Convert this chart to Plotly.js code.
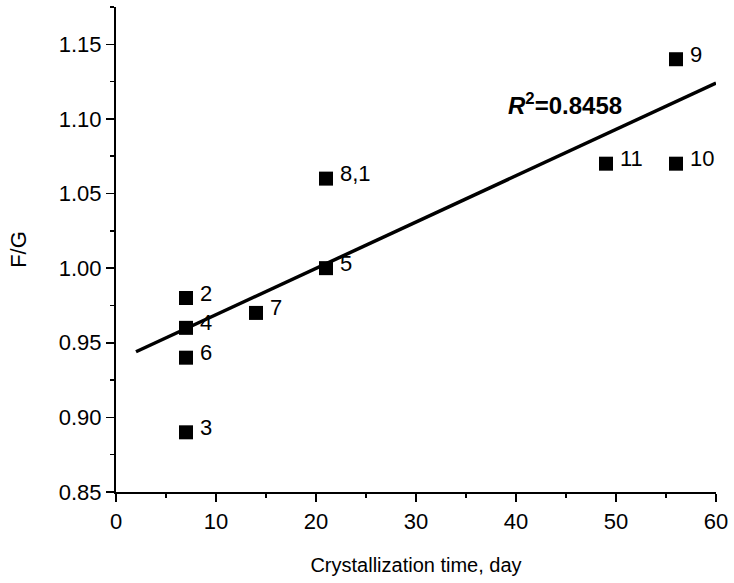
<!DOCTYPE html>
<html>
<head>
<meta charset="utf-8">
<script src="https://cdn.plot.ly/plotly-3.0.1.min.js"></script>
<style>html,body{margin:0;padding:0;background:#fff;}#chart{width:734px;height:583px;}</style>
</head>
<body>
<div id="chart"></div>
<script>
// Sample data: crystallization time (days) vs F/G ratio
const sampleLabels = ["2", "4", "6", "3", "7", "5", "8,1", "11", "9", "10"];
const crystallizationDays = [7, 7, 7, 7, 14, 21, 21, 49, 56, 56];
const fgRatio = [0.98, 0.96, 0.94, 0.89, 0.97, 1.00, 1.06, 1.07, 1.14, 1.07];

// Linear fit line endpoints
const fitX = [2, 60];
const fitY = [0.944, 1.124];
const r2Text = "<b><i>R</i><sup>2</sup>=0.8458</b>";
const r2Pos = [39.0, 1.11];

const FONT = "Arial, 'Liberation Sans', sans-serif";

const traces = [
  {
    x: fitX, y: fitY, type: "scatter", mode: "lines",
    line: {color: "#000", width: 3.5}, hoverinfo: "skip"
  },
  {
    x: crystallizationDays, y: fgRatio, type: "scatter", mode: "markers",
    marker: {symbol: "square", size: 14, color: "#000"}
  }
];

const annotations = sampleLabels.map((t, i) => ({
  x: crystallizationDays[i], y: fgRatio[i], xref: "x", yref: "y",
  text: t, showarrow: false, xanchor: "left", yanchor: "middle",
  xshift: 12, yshift: 5,
  font: {family: FONT, size: 22, color: "#000"}
}));
annotations.push({
  x: r2Pos[0], y: r2Pos[1], xref: "x", yref: "y", text: r2Text,
  showarrow: false, xanchor: "left", yanchor: "middle",
  font: {family: FONT, size: 24, color: "#000"}
});

const axisCommon = {
  showgrid: false, zeroline: false, showline: true, linecolor: "#000", linewidth: 2,
  ticks: "outside", ticklen: 8, tickwidth: 1.5, tickcolor: "#000",
  tickfont: {family: FONT, size: 22, color: "#000"},
  mirror: false
};

const layout = {
  width: 734, height: 583,
  margin: {l: 116, r: 18, t: 7, b: 91},
  paper_bgcolor: "#fff", plot_bgcolor: "#fff",
  showlegend: false,
  font: {family: FONT, color: "#000"},
  xaxis: Object.assign({}, axisCommon, {
    range: [0, 60], tick0: 0, dtick: 10, ticklabelstandoff: 1,
    minor: {dtick: 5, tick0: 0, ticks: "outside", ticklen: 4, tickwidth: 1.5, tickcolor: "#000"},
    title: {text: "Crystallization time, day", font: {family: FONT, size: 20, color: "#000"}, standoff: 25}
  }),
  yaxis: Object.assign({}, axisCommon, {
    range: [0.85, 1.175], tick0: 0.85, dtick: 0.05, tickformat: ".2f",
    minor: {dtick: 0.025, tick0: 0.85, ticks: "outside", ticklen: 4, tickwidth: 1.5, tickcolor: "#000"},
    title: {text: "F/G", font: {family: FONT, size: 22, color: "#000"}, standoff: 26}
  }),
  annotations: annotations
};

Plotly.newPlot("chart", traces, layout, {displayModeBar: false, staticPlot: true});
</script>
</body>
</html>
